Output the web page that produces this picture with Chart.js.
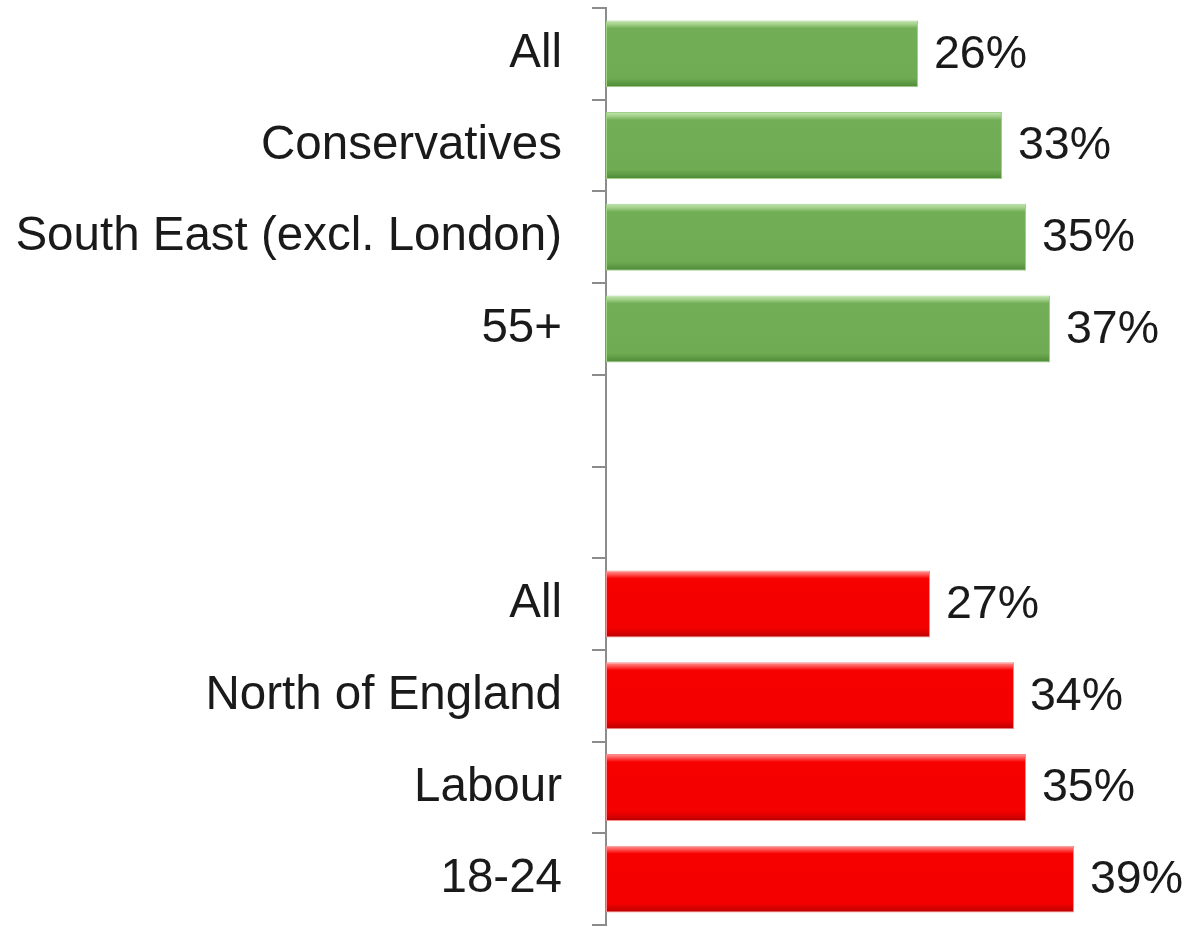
<!DOCTYPE html>
<html>
<head>
<meta charset="utf-8">
<script src="https://cdn.jsdelivr.net/npm/chart.js@4/dist/chart.umd.min.js"></script>
<style>
  html, body { margin: 0; padding: 0; background: #fff; }
  #wrap { width: 1188px; height: 927px; }
</style>
</head>
<body>
<div id="wrap"><canvas id="chart"></canvas></div>
<script>
// categories top to bottom, two empty rows separate the groups
const categories = ["All", "Conservatives", "South East (excl. London)", "55+", "", "", "All", "North of England", "Labour", "18-24"];
const conValues = [26, 33, 35, 37, null, null, null, null, null, null];
const labValues = [null, null, null, null, null, null, 27, 34, 35, 39];

const FONT = "'Liberation Sans', Arial, sans-serif";

// vertical gradient for the bevel look
function barFill(stops) {
  return function (ctx) {
    const chart = ctx.chart;
    if (!chart.chartArea || !chart.scales.y) return stops[2][1];
    const meta = chart.getDatasetMeta(ctx.datasetIndex);
    const el = meta.data[ctx.dataIndex];
    const yc = chart.scales.y.getPixelForValue(ctx.dataIndex);
    const h = el && el.height ? el.height : 67;
    const g = chart.ctx.createLinearGradient(0, yc - h / 2, 0, yc + h / 2);
    stops.forEach(s => g.addColorStop(s[0], s[1]));
    return g;
  };
}

const greenStops = [[0, "#c4e6b2"], [0.06, "#a2d08a"], [0.12, "#72ae55"], [0.86, "#6eab52"], [0.93, "#5e9b44"], [1, "#4c8736"]];
const redStops = [[0, "#ffa0a0"], [0.06, "#ff5050"], [0.12, "#f70000"], [0.86, "#f30000"], [0.93, "#d80000"], [1, "#b60000"]];

const valueLabels = {
  id: "valueLabels",
  afterDatasetsDraw(chart) {
    const ctx = chart.ctx;
    ctx.save();
    ctx.font = "46.5px " + FONT;
    ctx.fillStyle = "#1a1a1a";
    ctx.textAlign = "left";
    ctx.textBaseline = "middle";
    chart.data.datasets.forEach((ds, di) => {
      const meta = chart.getDatasetMeta(di);
      meta.data.forEach((bar, i) => {
        const v = ds.data[i];
        if (v == null) return;
        ctx.fillText(v + "%", bar.x + 16, bar.y + 1);
      });
    });
    ctx.restore();
  }
};

new Chart(document.getElementById("chart"), {
  type: "bar",
  data: {
    labels: categories,
    datasets: [
      {
        label: "Conservative",
        data: conValues,
        backgroundColor: barFill(greenStops),
        borderColor: "#9fd187",
        borderWidth: 1,
        borderSkipped: false
      },
      {
        label: "Labour",
        data: labValues,
        backgroundColor: barFill(redStops),
        borderColor: "#f78a8a",
        borderWidth: 1,
        borderSkipped: false
      }
    ]
  },
  options: {
    indexAxis: "y",
    responsive: true,
    maintainAspectRatio: false,
    animation: false,
    grouped: false,
    categoryPercentage: 1,
    barPercentage: 0.73,
    layout: { padding: { top: 8, bottom: 2, left: 0, right: 42 } },
    plugins: {
      legend: { display: false },
      tooltip: { enabled: false }
    },
    scales: {
      x: {
        display: false,
        min: 0,
        max: 45
      },
      y: {
        afterFit(scale) {
          scale.width = 606;
          scale.paddingTop = 0;
          scale.paddingBottom = 0;
        },
        grid: {
          drawOnChartArea: false,
          drawTicks: true,
          tickLength: 14,
          color: "#8c8c8c",
          lineWidth: 2
        },
        border: { color: "#8c8c8c", width: 2 },
        ticks: {
          color: "#1a1a1a",
          padding: 30,
          font: { family: FONT, size: 47.5 }
        }
      }
    }
  },
  plugins: [valueLabels]
});
</script>
</body>
</html>
